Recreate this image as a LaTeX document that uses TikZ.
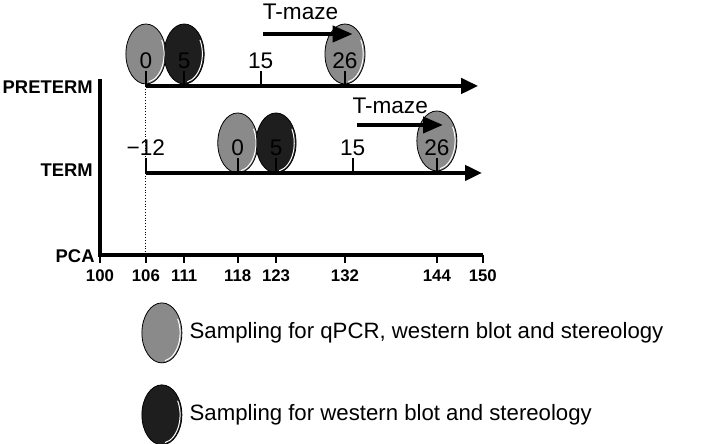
\documentclass[tikz,border=0pt]{standalone}
\usepackage{fontspec}
\setmainfont{Liberation Sans}
\usetikzlibrary{arrows.meta,shapes.geometric,positioning}
\definecolor{samplegray}{RGB}{138,138,138}
\definecolor{sampledark}{RGB}{30,30,30}

\begin{document}
\begin{tikzpicture}[x=3.83pt, y=-0.5pt,
    sample/.style={ellipse, draw=black, thin, minimum width=20pt, minimum height=30pt, inner sep=0pt},
    full/.style={sample, fill=samplegray},
    part/.style={sample, fill=sampledark},
    axis/.style={line width=2pt, -{Triangle[length=8.5pt,width=7.5pt]}},
    maze/.style={line width=2pt, -{Triangle[length=10pt,width=8pt]}},
    tick/.style={line width=1pt},
    group/.style={font=\bfseries\fontsize{9.2}{11}\selectfont, anchor=east, inner sep=0pt},
    day/.style={font=\fontsize{11.3}{13}\selectfont, inner sep=0pt},
    key/.style={font=\fontsize{11.1}{13}\selectfont, inner sep=0pt},
    age/.style={font=\bfseries\fontsize{8.4}{10}\selectfont, inner sep=0pt}
]
    \useasboundingbox (86.95,0) rectangle (179.54,444);

    % Sampling points
    \node[full] (p0) at (106,54) {};
    \node[part] (p5) at (111,54) {};
    \node[full] (p26) at (132,54) {};
    \node[full] (t0) at (118,143) {};
    \node[part] (t5) at (123,143) {};
    \node[full] (t26) at (144,141) {};
    \node[full] (keyfull) at (108.09,333) {};
    \node[part] (keypart) at (108.09,415) {};
    % light rim
    \foreach \s in {p0,p5,p26,t0,t5,t26,keyfull,keypart} {
        \draw[white, line width=0.5pt] (\s.center) ++(-80:9.1pt and 14.1pt)
            arc[start angle=-80, end angle=30, x radius=9.1pt, y radius=14.1pt];
    }

    % PCA axis
    \coordinate (top) at (100,79);
    \coordinate (origin) at (100,255);
    \coordinate (end) at (150,255);
    \draw[line width=1.8pt] (top) -- (origin) -- (end);
    \foreach \d in {100,106,111,118,123,132,144,150} {
        \coordinate (base\d) at (\d,255);
        \draw[tick] (base\d) -- (\d,263) node[age, below=3pt] (pca\d) {\d};
    }

    % Time lines
    \coordinate (prestart) at (106,86);
    \coordinate (preend) at (149.4,86);
    \coordinate (termstart) at (106,173);
    \coordinate (termend) at (149.9,173);
    \draw[axis] (prestart) -- (preend);
    \draw[axis] (termstart) -- (termend);
    \draw[densely dotted, thin] (prestart) -- (base106);

    \foreach \d/\t in {106/0, 111/5, 121/15, 132/26} {
        \draw[tick] (\d,86) -- (\d,71) node[day, above=0.5pt] (pre\t) {\t};
    }
    \foreach \d/\t in {106/{−12}, 118/0, 123/5, 133/15, 144/26} {
        \draw[tick] (\d,173) -- (\d,158) node[day, above=0.5pt] {\t};
    }

    % T-maze
    \node[day] (premaze) at (126.2,12) {T-maze};
    \coordinate (pm1) at (121.3,34);
    \coordinate (pm2) at (133.0,34);
    \draw[maze] (pm1) -- (pm2);
    \node[day] (termmaze) at (137.9,106) {T-maze};
    \coordinate (tm1) at (133.6,125);
    \coordinate (tm2) at (144.8,125);
    \draw[maze] (tm1) -- (tm2);

    % Groups
    \node[group] (preterm) at (99.1,87) {PRETERM};
    \node[group] (term) at (99.1,170) {TERM};
    \node[group] (pca) at (99.35,256) {PCA};

    % Legend
    \node[key, right=3.5pt of keyfull] (keyfulltext) {Sampling for qPCR, western blot and stereology};
    \node[key, right=3.5pt of keypart] (keyparttext) {Sampling for western blot and stereology};
\end{tikzpicture}
\end{document}
